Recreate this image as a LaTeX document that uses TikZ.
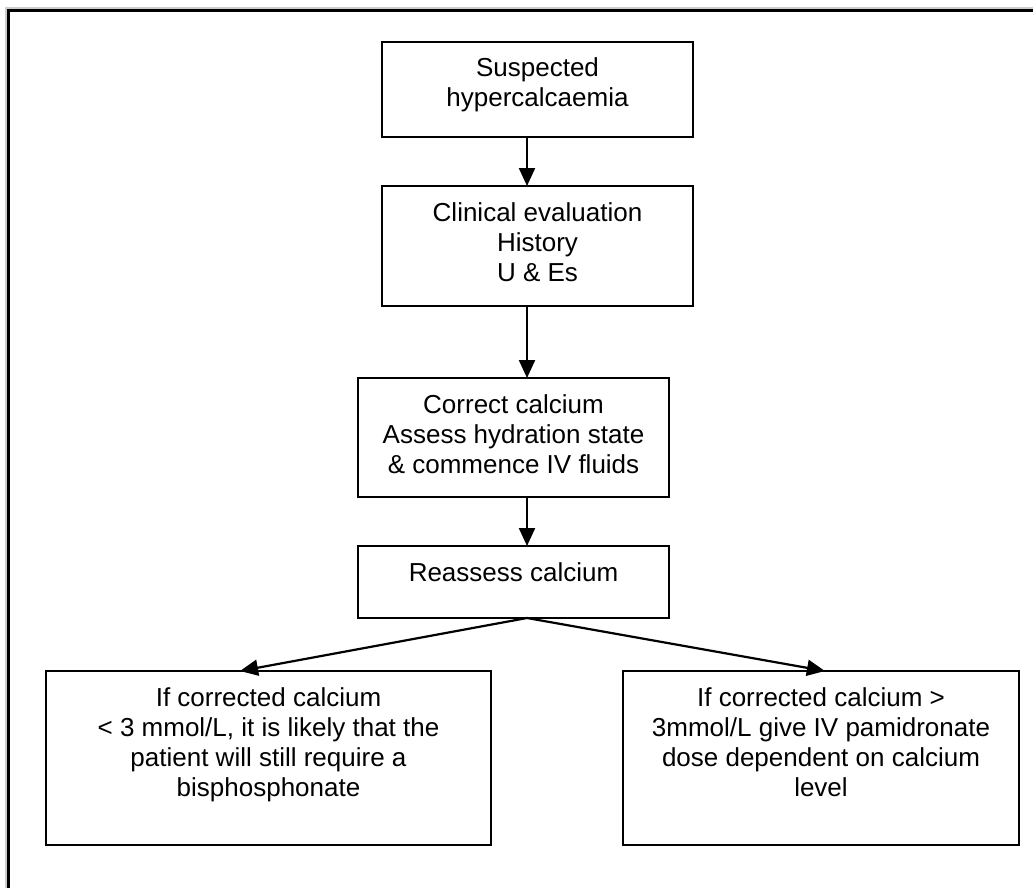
\documentclass[tikz,border=0pt]{standalone}
\usepackage{fontspec}
\setmainfont{Liberation Sans}
\usepackage{tikz}
\usetikzlibrary{arrows.meta, calc}

% box text: width, height, lines (top aligned)
\newcommand{\flowtext}[3]{\parbox[c][#2][t]{#1}{\centering\rule{0pt}{17.5pt}#3}}

\begin{document}
\begin{tikzpicture}[x=0.5pt, y=-0.5pt, >={Triangle[length=9pt, width=8pt]},
        flowbox/.style={draw, line width=1pt, inner sep=0pt, outer sep=0pt,
            font=\fontsize{13}{15}\selectfont},
        flowline/.style={->, line width=1.1pt}]
        \useasboundingbox (0,0) rectangle (1033,888);
        \clip (0,0) rectangle (1033,888);

        % Frame
        \draw[black!20, line width=0.8pt] (6,1100) |- (1100,8);
        \draw[line width=1.5pt] (8.5,10.5) rectangle (1100,1000);

        % Nodes
        \node[flowbox] (suspect) at (537.5,89.5)
            {\flowtext{155.5pt}{47.5pt}{Suspected\\hypercalcaemia}};
        \node[flowbox] (clinical) at (537.5,246)
            {\flowtext{155.5pt}{60pt}{Clinical evaluation\\History\\U \& Es}};
        \node[flowbox] (correct) at (513.5,437.5)
            {\flowtext{155.5pt}{59.5pt}{Correct calcium\\Assess hydration state\\\& commence IV fluids}};
        \node[flowbox] (reassess) at (513.5,582)
            {\flowtext{155.5pt}{36pt}{Reassess calcium}};
        \node[flowbox] (lowcal) at (268.5,758)
            {\flowtext{222.5pt}{87pt}{If corrected calcium\\< 3 mmol/L, it is likely that the\\patient will still require a\\bisphosphonate}};
        \node[flowbox] (highcal) at (821,758)
            {\flowtext{198pt}{87pt}{If corrected calcium >\\3mmol/L give IV pamidronate\\dose dependent on calcium\\level}};

        \coordinate (spine) at (527,0);

        \draw[flowline] (suspect.south -| spine) -- (clinical.north -| spine);
        \draw[flowline] (clinical.south -| spine) -- (correct.north -| spine);
        \draw[flowline] (correct.south -| spine) -- (reassess.north -| spine);
        \draw[flowline] (reassess.south -| spine) -- ($(lowcal.north west)!0.436!(lowcal.north east)$);
        \draw[flowline] (reassess.south -| spine) -- ($(highcal.north west)!0.51!(highcal.north east)$);
    \end{tikzpicture}
\end{document}
